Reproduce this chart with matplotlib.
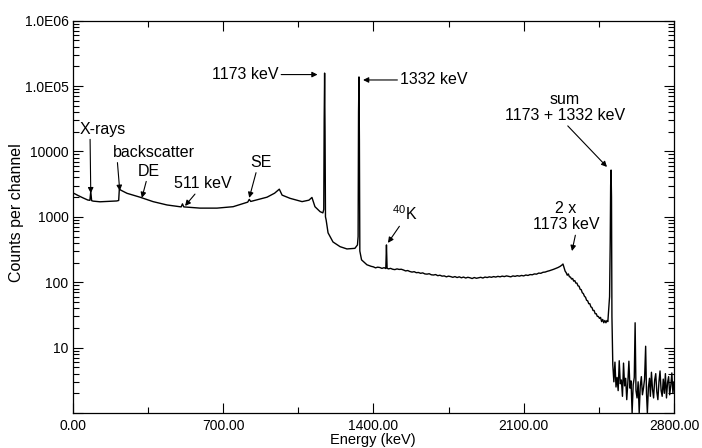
"""Co-60 gamma spectrum, counts per channel vs energy (log scale)."""
import matplotlib

matplotlib.use("Agg")
import matplotlib.pyplot as plt
import numpy as np
from matplotlib.ticker import FixedLocator, FixedFormatter, LogLocator, NullFormatter

plt.rcParams["font.family"] = ["Liberation Sans", "DejaVu Sans"]
plt.rcParams["mathtext.fontset"] = "custom"
plt.rcParams["mathtext.rm"] = "Liberation Sans"

# --- spectrum (keV, counts per channel) ---
# low-energy part: X-rays, backscatter, Compton continuum up to the 1173 peak
e_low = [3, 10, 25, 48, 70, 80, 84, 88, 95, 127, 160, 205, 214, 217, 225, 253,
         313, 374, 439, 505, 511, 517, 593, 672, 747, 815, 822, 829, 905, 940,
         962, 975, 1012, 1068, 1100, 1114, 1128, 1152, 1165]
c_low = [2300, 2250, 2120, 1950, 1810, 1790, 2450, 1770, 1740, 1700, 1720, 1750,
         1780, 2650, 2550, 2290, 2000, 1710, 1520, 1420, 1580, 1420, 1360, 1360,
         1430, 1680, 1850, 1720, 2000, 2300, 2650, 2150, 1920, 1710, 1800, 1980,
         1430, 1200, 1150]

# the two full-energy peaks and the valley between them
e_peaks = [1169, 1171, 1173, 1175, 1177, 1180, 1189, 1212, 1245, 1277, 1314,
           1326, 1329, 1331, 1333, 1335, 1337, 1345, 1370, 1390]
c_peaks = [1300, 30000, 158000, 20000, 1000, 900, 570, 413, 350, 323, 330,
           372, 500, 40000, 138000, 15000, 300, 220, 185, 175]

# background continuum above 1332 keV incl. 40K line
e_cont = [1400, 1410, 1420, 1430, 1440, 1450, 1458, 1461, 1464, 1470, 1480, 1490,
          1500, 1510, 1520, 1530, 1540, 1550, 1560, 1570, 1580, 1590, 1600, 1610,
          1620, 1630, 1640, 1650, 1660, 1670, 1680, 1690, 1700, 1710, 1720, 1730,
          1740, 1750, 1760, 1770, 1780, 1790, 1800, 1810, 1820, 1830, 1840, 1850,
          1860, 1870, 1880, 1890, 1900, 1910, 1920, 1930, 1940, 1950, 1960, 1970,
          1980, 1990, 2000, 2010, 2020, 2030, 2040, 2050, 2060, 2070, 2080, 2090,
          2100, 2110, 2120, 2130, 2140, 2150, 2160, 2170, 2180, 2190, 2200, 2210,
          2220, 2230, 2240, 2250, 2260, 2270, 2278]
c_cont = [172, 166, 170, 168, 163, 167, 162, 372, 164, 160, 163, 158, 156, 160,
          157, 158, 154, 149, 151, 146, 143, 145, 140, 141, 137, 139, 134, 133,
          135, 130, 129, 131, 126, 128, 124, 125, 121, 124, 122, 119, 122, 118,
          121, 117, 120, 116, 119, 117, 114, 118, 115, 117, 119, 116, 120, 118,
          121, 119, 122, 120, 123, 121, 124, 122, 125, 123, 121, 125, 123, 126,
          124, 127, 125, 129, 127, 131, 130, 134, 133, 138, 137, 142, 143, 147,
          150, 154, 158, 163, 168, 175, 183]

# sum Compton edge, 2 x 1173 shoulder, valley and the sum peak
e_sum = [2283, 2288, 2293, 2298, 2303, 2308, 2313, 2318, 2323, 2328, 2333, 2338,
         2343, 2348, 2353, 2358, 2363, 2368, 2373, 2378, 2383, 2388, 2393, 2398,
         2403, 2408, 2413, 2418, 2423, 2428, 2433, 2438, 2443, 2448, 2453, 2458,
         2463, 2468, 2473, 2478, 2483, 2488, 2492, 2496, 2500, 2503, 2505, 2507,
         2509, 2511]
c_sum = [190, 168, 148, 140, 128, 134, 121, 120, 112, 114, 104, 106, 97, 97, 88,
         87, 78, 77, 69, 67, 61, 59, 53, 52, 47, 47, 42, 41, 37, 37, 33, 33, 30,
         30, 28, 29, 25, 27, 24, 26, 24, 26, 25, 38, 60, 400, 3000, 5200, 2000, 30]

# counts above the sum peak (1 = empty channel)
e_tail = [2515, 2520, 2525, 2530, 2535, 2540, 2545, 2550, 2555, 2560, 2565, 2570,
          2575, 2580, 2585, 2590, 2595, 2600, 2605, 2610, 2615, 2619, 2623, 2628,
          2633, 2638, 2643, 2648, 2653, 2658, 2663, 2668, 2672, 2676, 2681, 2686,
          2690, 2695, 2700, 2705, 2710, 2715, 2720, 2725, 2730, 2735, 2740, 2745,
          2750, 2755, 2760, 2765, 2770, 2775, 2780, 2785, 2790, 2795, 2800]
c_tail = [5.5, 3.0, 6.0, 2.5, 3.5, 2.2, 6.3, 2.8, 3.2, 1.8, 5.8, 2.6, 3.4, 1.6,
          2.9, 6.2, 2.4, 3.1, 1.0, 2.7, 3.5, 24, 2.2, 1.7, 3.0, 1.0, 2.6, 3.6,
          1.9, 2.4, 3.3, 10.5, 2.0, 1.0, 2.5, 3.4, 1.8, 4.2, 2.3, 1.7, 3.2, 4.0,
          2.1, 1.6, 3.0, 4.4, 2.2, 1.8, 3.3, 2.0, 4.0, 1.7, 2.9, 3.6, 1.9, 2.6,
          4.1, 2.0, 3.0]

x_ticks = [0, 700, 1400, 2100, 2800]
y_ticks = [1, 10, 100, 1000, 10000, 100000, 1000000]
y_labels = ["", "10", "100", "1000", "10000", "1.0E05", "1.0E06"]

energy = np.concatenate([e_low, e_peaks, e_cont, e_sum, e_tail])
counts = np.concatenate([c_low, c_peaks, c_cont, c_sum, c_tail])

fig = plt.figure(figsize=(7.02, 4.48), dpi=100)
ax = fig.add_axes([0.1036, 0.0781, 0.8565, 0.8757])

ax.plot(energy, counts, color="black", lw=1.0)

ax.set_yscale("log")
ax.set_xlim(0, 2800)
ax.set_ylim(1, 1e6)

ax.xaxis.set_major_locator(FixedLocator(x_ticks))
ax.xaxis.set_major_formatter(FixedFormatter([f"{v:.2f}" for v in x_ticks]))
ax.xaxis.set_minor_locator(FixedLocator([350, 1050, 1750, 2450]))
ax.yaxis.set_major_locator(FixedLocator(y_ticks))
ax.yaxis.set_major_formatter(FixedFormatter(y_labels))
ax.yaxis.set_minor_locator(LogLocator(base=10, subs=np.arange(2, 10)))
ax.yaxis.set_minor_formatter(NullFormatter())

ax.tick_params(which="both", direction="in", top=True, right=True, width=0.8)
ax.tick_params(which="major", length=7)
ax.tick_params(which="minor", length=4)
ax.tick_params(axis="x", which="major", labelsize=10, pad=4)
ax.tick_params(axis="y", which="major", labelsize=10, pad=3)
for sp in ax.spines.values():
    sp.set_linewidth(0.9)

fig.text(17 / 702, 1 - 213 / 448, "Counts per channel", rotation=90,
         ha="center", va="center", fontsize=11.5)
fig.text(373 / 702, 1 - 440 / 448, "Energy (keV)", ha="center", va="center",
         fontsize=10.5)

arrow = dict(arrowstyle="-|>", color="black", lw=0.8, mutation_scale=8,
             shrinkA=0, shrinkB=0)
tsize = 11.5

ax.annotate("X-rays", xy=(84, 2300), xytext=(141, 22000), ha="center",
            va="center", fontsize=tsize,
            arrowprops=dict(arrow, relpos=(0.22, 0)))
ax.annotate("backscatter", xy=(219, 2500), xytext=(379, 9700), ha="center",
            va="center", fontsize=tsize,
            arrowprops=dict(arrow, relpos=(0.05, 0)))
ax.annotate("DE", xy=(322, 1950), xytext=(356, 5000), ha="center",
            va="center", fontsize=tsize,
            arrowprops=dict(arrow, relpos=(0.4, 0)))
ax.annotate("511 keV", xy=(523, 1470), xytext=(607, 3200), ha="center",
            va="center", fontsize=tsize,
            arrowprops=dict(arrow, relpos=(0.4, 0)))
ax.annotate("SE", xy=(822, 1950), xytext=(877, 6800), ha="center",
            va="center", fontsize=tsize,
            arrowprops=dict(arrow, relpos=(0.3, 0)))
ax.annotate("1173 keV", xy=(1140, 150000), xytext=(803, 150000), ha="center",
            va="center", fontsize=tsize,
            arrowprops=dict(arrow, relpos=(1, 0.5)))
ax.annotate("1332 keV", xy=(1352, 124000), xytext=(1682, 124000), ha="center",
            va="center", fontsize=tsize,
            arrowprops=dict(arrow, relpos=(0, 0.5)))
ax.annotate("sum\n1173 + 1332 keV", xy=(2488, 5800), xytext=(2293, 47000),
            ha="center", va="center", fontsize=tsize, linespacing=1.1,
            arrowprops=dict(arrow, relpos=(0.5, 0)))
ax.annotate("2 x\n1173 keV", xy=(2325, 300), xytext=(2297, 1000),
            ha="center", va="center", fontsize=tsize, linespacing=1.1,
            arrowprops=dict(arrow, relpos=(0.65, 0)))
ax.annotate("$^{40}$K", xy=(1468, 400), xytext=(1548, 1100), ha="center",
            va="center", fontsize=tsize,
            arrowprops=dict(arrow, relpos=(0.35, 0)))

fig.savefig("out.png", dpi=100)
